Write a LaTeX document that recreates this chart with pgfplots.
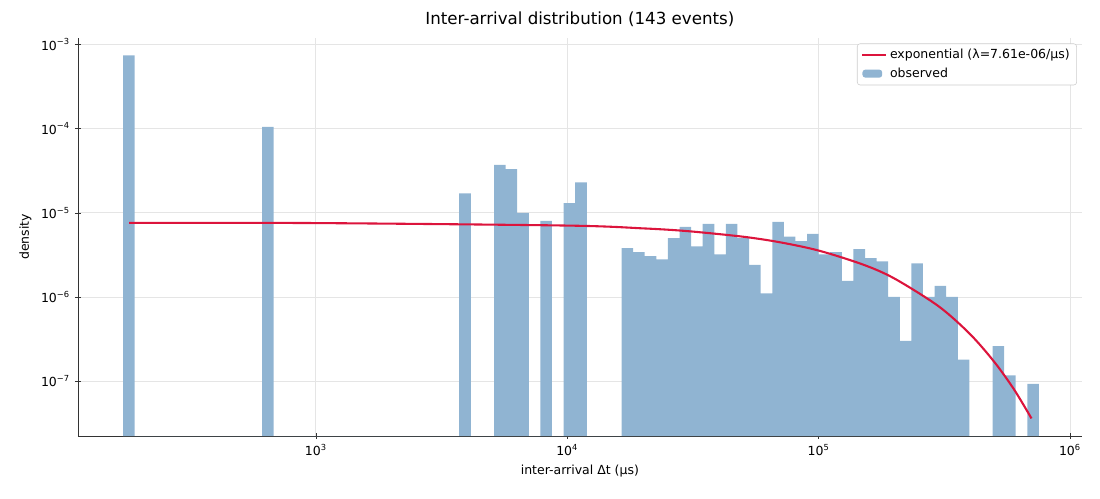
\documentclass[border=0pt]{standalone}
\usepackage{pgfplots}
\pgfplotsset{compat=1.18}
\usepackage{pgfplotstable}
\usepackage{fontspec}
\setmainfont{DejaVu Sans}
\definecolor{barc}{HTML}{90B4D2}
\definecolor{crim}{HTML}{DC143C}
\pgfplotstableread{
k y
0 7.4e-4
1 2.22e-8
2 2.22e-8
3 2.22e-8
4 2.22e-8
5 2.22e-8
6 2.22e-8
7 2.22e-8
8 2.22e-8
9 2.22e-8
10 2.22e-8
11 2.22e-8
12 1.05e-4
13 2.22e-8
14 2.22e-8
15 2.22e-8
16 2.22e-8
17 2.22e-8
18 2.22e-8
19 2.22e-8
20 2.22e-8
21 2.22e-8
22 2.22e-8
23 2.22e-8
24 2.22e-8
25 2.22e-8
26 2.22e-8
27 2.22e-8
28 2.22e-8
29 1.7e-5
30 2.22e-8
31 2.22e-8
32 3.7e-5
33 3.3e-5
34 1.0e-5
35 2.22e-8
36 8e-6
37 2.22e-8
38 1.3e-5
39 2.3e-5
40 2.22e-8
41 2.22e-8
42 2.22e-8
43 3.8e-6
44 3.4e-6
45 3.05e-6
46 2.8e-6
47 5e-6
48 6.8e-6
49 4e-6
50 7.4e-6
51 3.2e-6
52 7.4e-6
53 5.0e-6
54 2.4e-6
55 1.1e-6
56 7.8e-6
57 5.2e-6
58 4.6e-6
59 5.6e-6
60 3.2e-6
61 3.4e-6
62 1.55e-6
63 3.7e-6
64 2.9e-6
65 2.65e-6
66 1.0e-6
67 3e-7
68 2.5e-6
69 1.0e-6
70 1.35e-6
71 1.0e-6
72 1.8e-7
73 2.22e-8
74 2.22e-8
75 2.6e-7
76 1.17e-7
77 2.22e-8
78 9.3e-8
79 9.3e-8
}\hist
\newcommand{\tp}[1]{10\textsuperscript{#1}}
\begin{document}
\begin{tikzpicture}
\path[use as bounding box] (-56pt,-45pt) rectangle (736pt,314pt);
\begin{axis}[
  at={(0,0)}, anchor=south west,
  scale only axis, width=723pt, height=287pt,
  xmode=log, ymode=log, log origin=infty,
  xmin=113, xmax=1.116e6, ymin=2.22e-8, ymax=1.21e-3,
  log basis x=10, log basis y=10,
  xtick={1e3,1e4,1e5,1e6}, ytick={1e-7,1e-6,1e-5,1e-4,1e-3},
  xticklabels={\tp{3},\tp{4},\tp{5},\tp{6}},
  yticklabels={\tp{−7},\tp{−6},\tp{−5},\tp{−4},\tp{−3}},
  axis lines=left, axis line style={-, black!80},
  grid=major, major grid style={gray!20, line width=0.5pt},
  tick style={black!80},
  tick label style={font=\small},
  xlabel={inter-arrival Δt (μs)}, ylabel={density},
  label style={font=\small},
  title={Inter-arrival distribution (143 events)},
  title style={font=\large, yshift=-2pt},
  legend style={at={(0.995,0.985)}, anchor=north east, font=\small,
    draw=black!20, rounded corners=2pt, row sep=1pt},
  legend cell align=left, reverse legend,
]
\addplot[ybar interval, fill=barc, draw=none,
  legend image code/.code={\fill[barc] (0cm,-0.1cm) rectangle (0.5cm,0.1cm);}]
  table[x expr={exp((2.233+0.04612*\thisrow{k})*ln(10))}, y=y] {\hist};
\addlegendentry{observed}
\addplot[crim, line width=1.5pt, smooth] coordinates {
(181,7.60e-6) (1e3,7.55e-6) (1e4,7.05e-6) (2e4,6.53e-6) (3e4,6.06e-6)
(5e4,5.20e-6) (7e4,4.47e-6) (1e5,3.56e-6) (1.5e5,2.43e-6) (2e5,1.66e-6)
(3e5,7.76e-7) (4e5,3.63e-7) (5e5,1.69e-7) (6e5,7.91e-8) (7.03e5,3.6e-8)};
\addlegendentry{exponential (λ=7.61e-06/μs)}
\end{axis}
\end{tikzpicture}
\end{document}
